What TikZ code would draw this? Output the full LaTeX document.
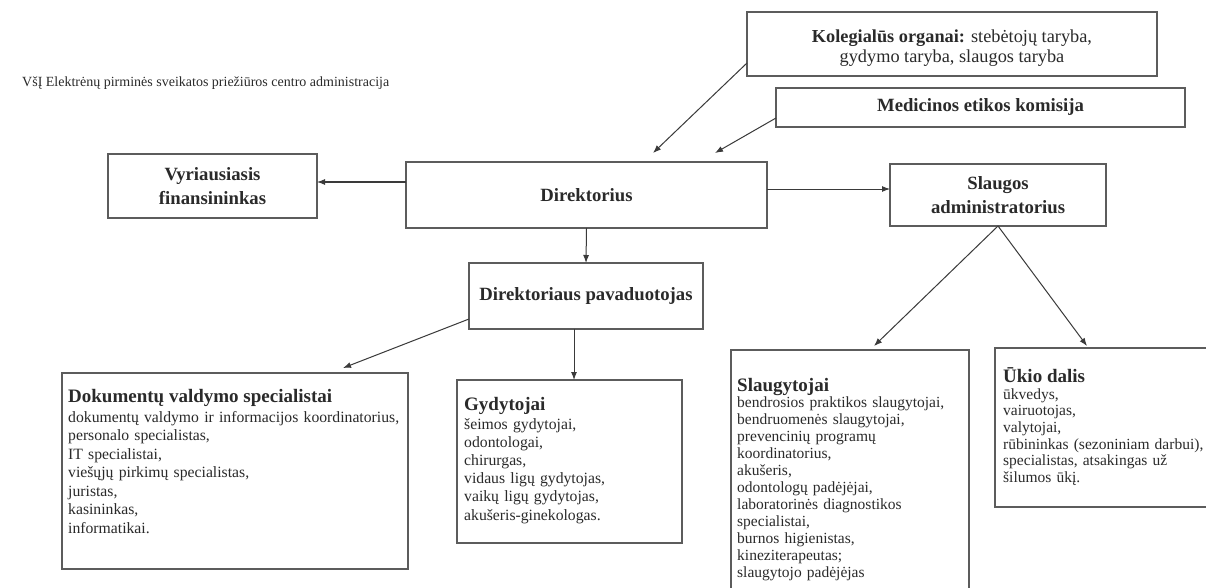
\documentclass[tikz,border=0pt]{standalone}
\usepackage{fontspec}
\setmainfont{Liberation Serif}
\usetikzlibrary{arrows.meta}
\definecolor{txt}{HTML}{2A2A2A}
\definecolor{boxc}{HTML}{5C5C5C}
\definecolor{arrc}{HTML}{3A3A3A}
\begin{document}
\begin{tikzpicture}[x=1pt,y=-1pt,
  box/.style={draw=boxc, line width=1.2pt, inner sep=0pt, outer sep=0pt},
  ttl/.style={font=\fontsize{18.7}{24}\selectfont\bfseries, text=txt, align=center},
  conn/.style={draw=arrc, line width=1pt, -{Latex[length=8pt,width=6pt]}},
  hd/.style={font=\fontsize{19}{22}\selectfont\bfseries, text=txt, anchor=base west, inner sep=0pt},
  lst/.style={anchor=base west, inner sep=0pt, text=txt, align=left}
]
\useasboundingbox[fill=white] (0,0) rectangle (1206,588);
\clip (0,0) rectangle (1206,588);

% header
\node[anchor=base west, inner sep=0pt, text=txt, font=\fontsize{14}{16}\selectfont] (hdr) at (22,87)
  {VšĮ Elektrėnų pirminės sveikatos priežiūros centro administracija};

% boxes
\node[box, minimum width=410pt, minimum height=64pt] (kol) at (952,44) {};
\node[font=\fontsize{18.3}{20}\selectfont, text=txt, align=center, inner sep=0pt] (kolT) at (952,48)
  {\textbf{Kolegialūs organai:} stebėtojų taryba,\\gydymo taryba, slaugos taryba};
\node[box, ttl, minimum width=409pt, minimum height=39pt] (med) at (980.5,107.5) {Medicinos etikos komisija};
\node[box, ttl, minimum width=209pt, minimum height=64pt] (vf) at (212.5,186) {Vyriausiasis\\finansininkas};
\node[box, ttl, minimum width=361pt, minimum height=66pt] (dir) at (586.5,195) {Direktorius};
\node[box, ttl, minimum width=216pt, minimum height=62pt] (sa) at (998,195) {Slaugos\\administratorius};
\node[box, ttl, minimum width=234pt, minimum height=66pt] (pav) at (586,296) {Direktoriaus pavaduotojas};

\node[box, minimum width=346pt, minimum height=196pt] (dok) at (235,471) {};
\node[box, minimum width=225pt, minimum height=163pt] (gyd) at (569.5,461.5) {};
\node[box, minimum width=238pt, minimum height=248pt] (sl) at (850,474) {};
\node[box, minimum width=213pt, minimum height=159pt] (uk) at (1101.5,427.5) {};

% box contents
\node[hd] (dokT) at (68,402) {Dokumentų valdymo specialistai};
\node[lst, text width=338pt, font=\fontsize{15.7}{18.5}\selectfont] (dokL) at (68,422)
  {dokumentų valdymo ir informacijos koordinatorius,\\ personalo specialistas,\\ IT specialistai,\\ viešųjų pirkimų specialistas,\\ juristas,\\ kasininkas,\\ informatikai.};

\node[hd] (gydT) at (464,410) {Gydytojai};
\node[lst, text width=215pt, font=\fontsize{15.7}{18.2}\selectfont] (gydL) at (464,429)
  {šeimos gydytojai,\\ odontologai,\\ chirurgas,\\ vidaus ligų gydytojas,\\ vaikų ligų gydytojas,\\ akušeris-ginekologas.};

\node[hd] (slT) at (737,391) {Slaugytojai};
\node[lst, text width=230pt, font=\fontsize{15.5}{17}\selectfont] (slL) at (737,407)
  {bendrosios praktikos slaugytojai,\\ bendruomenės slaugytojai,\\ prevencinių programų\\ koordinatorius,\\ akušeris,\\ odontologų padėjėjai,\\ laboratorinės diagnostikos\\ specialistai,\\ burnos higienistas,\\ kineziterapeutas;\\ slaugytojo padėjėjas};

\node[hd] (ukT) at (1003,382) {Ūkio dalis};
\node[lst, text width=215pt, font=\fontsize{15.5}{16.7}\selectfont] (ukL) at (1003,399)
  {ūkvedys,\\ vairuotojas,\\ valytojai,\\ rūbininkas (sezoniniam darbui),\\ specialistas, atsakingas už\\ šilumos ūkį.};

% free arrow ends
\coordinate (kA) at (653,153);
\coordinate (mA) at (715,153);
\coordinate (dA) at (343,368);
\coordinate (sA) at (874,346);
\coordinate (uA) at (1087,346);

% connectors
\draw[conn] ([yshift=13pt]kol.south west) -- (kA);
\draw[conn] ([yshift=9pt]med.south west) -- (mA);
\draw[conn] (dir.west |- 0,182) -- (vf.east |- 0,182);
\draw[conn] (dir.east |- 0,189) -- (sa.west |- 0,189);
\draw[conn] (dir.south) -- (pav.north);
\draw[conn] ([yshift=10pt]pav.south west) -- (dA);
\draw[conn] (pav.south -| 574,0) -- (gyd.north -| 574,0);
\draw[conn] (sa.south) -- (sA);
\draw[conn] (sa.south) -- (uA);
\end{tikzpicture}
\end{document}
